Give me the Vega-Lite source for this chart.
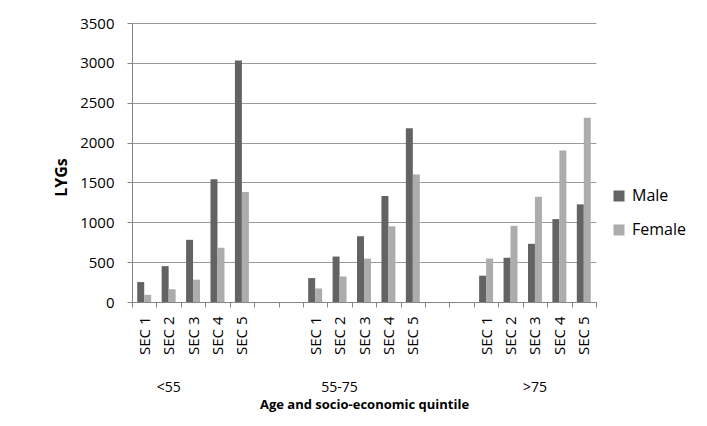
{
  "$schema": "https://vega.github.io/schema/vega-lite/v6.json",
  "width": 464,
  "height": 279,
  "autosize": {"type": "none"},
  "padding": {"left": 132, "top": 23, "right": 111, "bottom": 124},
  "background": "white",
  "config": {
    "font": "Open Sans",
    "view": {"stroke": null},
    "axis": {"labelColor": "#000000", "titleColor": "#000000"},
    "axisX": {"grid": false}
  },
  "datasets": {
    "bars": [
      {"cat": "<55|SEC 1", "sex": "Male", "value": 250},
      {"cat": "<55|SEC 1", "sex": "Female", "value": 90},
      {"cat": "<55|SEC 2", "sex": "Male", "value": 450},
      {"cat": "<55|SEC 2", "sex": "Female", "value": 160},
      {"cat": "<55|SEC 3", "sex": "Male", "value": 780},
      {"cat": "<55|SEC 3", "sex": "Female", "value": 280},
      {"cat": "<55|SEC 4", "sex": "Male", "value": 1540},
      {"cat": "<55|SEC 4", "sex": "Female", "value": 680},
      {"cat": "<55|SEC 5", "sex": "Male", "value": 3030},
      {"cat": "<55|SEC 5", "sex": "Female", "value": 1380},
      {"cat": "55-75|SEC 1", "sex": "Male", "value": 300},
      {"cat": "55-75|SEC 1", "sex": "Female", "value": 170},
      {"cat": "55-75|SEC 2", "sex": "Male", "value": 570},
      {"cat": "55-75|SEC 2", "sex": "Female", "value": 320},
      {"cat": "55-75|SEC 3", "sex": "Male", "value": 825},
      {"cat": "55-75|SEC 3", "sex": "Female", "value": 545},
      {"cat": "55-75|SEC 4", "sex": "Male", "value": 1330},
      {"cat": "55-75|SEC 4", "sex": "Female", "value": 950},
      {"cat": "55-75|SEC 5", "sex": "Male", "value": 2180},
      {"cat": "55-75|SEC 5", "sex": "Female", "value": 1600},
      {"cat": ">75|SEC 1", "sex": "Male", "value": 330},
      {"cat": ">75|SEC 1", "sex": "Female", "value": 545},
      {"cat": ">75|SEC 2", "sex": "Male", "value": 555},
      {"cat": ">75|SEC 2", "sex": "Female", "value": 955},
      {"cat": ">75|SEC 3", "sex": "Male", "value": 730},
      {"cat": ">75|SEC 3", "sex": "Female", "value": 1320},
      {"cat": ">75|SEC 4", "sex": "Male", "value": 1040},
      {"cat": ">75|SEC 4", "sex": "Female", "value": 1900},
      {"cat": ">75|SEC 5", "sex": "Male", "value": 1225},
      {"cat": ">75|SEC 5", "sex": "Female", "value": 2310}
    ],
    "groups": [
      {"cat": "<55|SEC 2", "label": "<55"},
      {"cat": "55-75|SEC 2", "label": "55-75"},
      {"cat": ">75|SEC 3", "label": ">75"}
    ]
  },
  "layer": [
    {
      "data": {"name": "bars"},
      "mark": {"type": "bar"},
      "encoding": {
        "x": {
          "field": "cat",
          "type": "nominal",
          "scale": {
            "domain": ["<55|SEC 1", "<55|SEC 2", "<55|SEC 3", "<55|SEC 4", "<55|SEC 5", "gap1", "gap2",
                       "55-75|SEC 1", "55-75|SEC 2", "55-75|SEC 3", "55-75|SEC 4", "55-75|SEC 5", "gap3", "gap4",
                       ">75|SEC 1", ">75|SEC 2", ">75|SEC 3", ">75|SEC 4", ">75|SEC 5"],
            "paddingInner": 0,
            "paddingOuter": 0
          },
          "axis": {
            "title": "Age and socio-economic quintile",
            "titleFontSize": 13,
            "titleFontWeight": "bold",
            "titlePadding": 44,
            "labelExpr": "isString(datum.value) && indexof(datum.value, '|') >= 0 ? split(datum.value, '|')[1] : ''",
            "labelAngle": -90,
            "labelFontSize": 15,
            "labelPadding": 9,
            "tickBand": "extent",
            "tickSize": 5,
            "tickColor": "#868686",
            "domainColor": "#868686"
          }
        },
        "xOffset": {
          "field": "sex",
          "type": "nominal",
          "scale": {"domain": ["Male", "Female"], "paddingOuter": 0.75, "paddingInner": 0}
        },
        "y": {
          "field": "value",
          "type": "quantitative",
          "scale": {"domain": [0, 3500], "nice": false},
          "axis": {
            "values": [0, 500, 1000, 1500, 2000, 2500, 3000, 3500],
            "tickCount": 8,
            "format": "d",
            "labelOverlap": false,
            "title": "LYGs",
            "titleFontSize": 16,
            "titleFontWeight": "bold",
            "titlePadding": 10,
            "titleY": 154,
            "labelFontSize": 15,
            "labelPadding": 13,
            "tickSize": 5,
            "tickColor": "#868686",
            "domainColor": "#868686",
            "grid": true,
            "gridColor": "#9a9a9a"
          }
        },
        "color": {
          "field": "sex",
          "type": "nominal",
          "scale": {"domain": ["Male", "Female"], "range": ["#636363", "#acacac"]},
          "legend": {
            "orient": "none",
            "legendX": 479,
            "legendY": 165,
            "title": null,
            "padding": 0,
            "symbolType": "square",
            "symbolSize": 121,
            "symbolStrokeWidth": 0,
            "labelFontSize": 16,
            "labelColor": "#000000",
            "labelOffset": 5,
            "rowPadding": 18
          }
        }
      }
    },
    {
      "data": {"name": "groups"},
      "mark": {"type": "text", "fontSize": 14, "color": "#000000", "baseline": "middle"},
      "encoding": {
        "x": {"field": "cat", "type": "nominal"},
        "y": {
          "datum": -1080,
          "type": "quantitative",
          "axis": {
            "values": [0, 500, 1000, 1500, 2000, 2500, 3000, 3500],
            "tickCount": 8,
            "format": "d",
            "labelOverlap": false,
            "title": "LYGs",
            "titleFontSize": 16,
            "titleFontWeight": "bold",
            "titlePadding": 10,
            "titleY": 154,
            "labelFontSize": 15,
            "labelPadding": 13,
            "tickSize": 5,
            "tickColor": "#868686",
            "domainColor": "#868686",
            "grid": true,
            "gridColor": "#9a9a9a"
          }
        },
        "text": {"field": "label"}
      }
    }
  ]
}
